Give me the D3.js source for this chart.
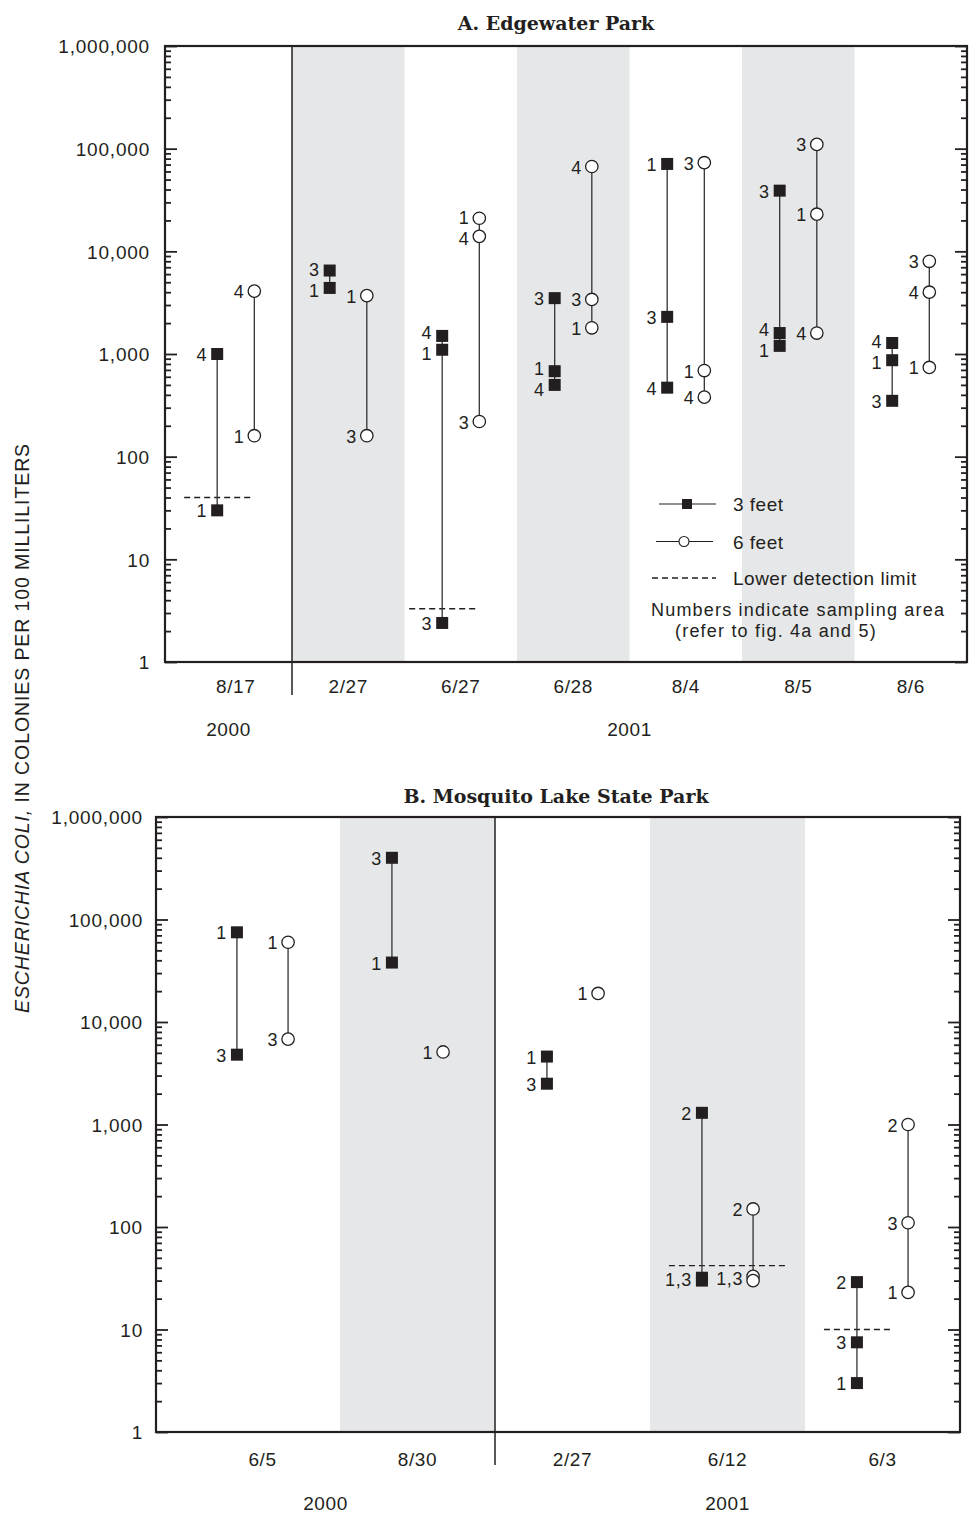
<!DOCTYPE html>
<html>
<head>
<meta charset="utf-8">
<script src="https://cdn.jsdelivr.net/npm/d3@7"></script>
<style>
  html, body { margin: 0; padding: 0; background: #fff; }
  svg { display: block; }
  text { fill: #231f20; }
</style>
</head>
<body>
<svg id="chart" width="969" height="1513"></svg>
<script>
// ---------------- data ----------------
// Decade ticks of the log axis (labelled)
const yTickValues = [1, 10, 100, 1000, 10000, 100000, 1000000];
const yAxisTitleItalic = "ESCHERICHIA COLI,";
const yAxisTitleRest = " IN COLONIES PER 100 MILLILITERS";

// A. Edgewater Park — each record: [date, sampling area, colonies per 100 mL]
const edgewaterTitle = "A. Edgewater Park";
const edgewaterDates = ["8/17", "2/27", "6/27", "6/28", "8/4", "8/5", "8/6"];
const edgewaterDateYears = ["2000", "2001", "2001", "2001", "2001", "2001", "2001"];
const edgewaterThreeFeet = [
  ["8/17", "4", 1000], ["8/17", "1", 30],
  ["2/27", "3", 6500], ["2/27", "1", 4400],
  ["6/27", "4", 1500], ["6/27", "1", 1100], ["6/27", "3", 2.4],
  ["6/28", "3", 3500], ["6/28", "1", 680], ["6/28", "4", 500],
  ["8/4", "1", 71000], ["8/4", "3", 2300], ["8/4", "4", 470],
  ["8/5", "3", 39000], ["8/5", "4", 1600], ["8/5", "1", 1200],
  ["8/6", "4", 1280], ["8/6", "1", 870], ["8/6", "3", 350]
];
const edgewaterSixFeet = [
  ["8/17", "4", 4100], ["8/17", "1", 160],
  ["2/27", "1", 3700], ["2/27", "3", 160],
  ["6/27", "1", 21000], ["6/27", "4", 14000], ["6/27", "3", 220],
  ["6/28", "4", 67000], ["6/28", "3", 3400], ["6/28", "1", 1800],
  ["8/4", "3", 73000], ["8/4", "1", 690], ["8/4", "4", 380],
  ["8/5", "3", 110000], ["8/5", "1", 23000], ["8/5", "4", 1600],
  ["8/6", "3", 8000], ["8/6", "4", 4000], ["8/6", "1", 740]
];
// Lower detection limits: [date, depths covered, value]
const edgewaterLimits = [["8/17", "3", 40], ["6/27", "3", 3.3]];

// B. Mosquito Lake State Park
const mosquitoTitle = "B. Mosquito Lake State Park";
const mosquitoDates = ["6/5", "8/30", "2/27", "6/12", "6/3"];
const mosquitoDateYears = ["2000", "2000", "2001", "2001", "2001"];
const mosquitoThreeFeet = [
  ["6/5", "1", 75000], ["6/5", "3", 4800],
  ["8/30", "3", 400000], ["8/30", "1", 38000],
  ["2/27", "1", 4600], ["2/27", "3", 2500],
  ["6/12", "2", 1300], ["6/12", "1", 32], ["6/12", "3", 30],
  ["6/3", "2", 29], ["6/3", "3", 7.5], ["6/3", "1", 3]
];
const mosquitoSixFeet = [
  ["6/5", "1", 60000], ["6/5", "3", 6800],
  ["8/30", "1", 5100],
  ["2/27", "1", 19000],
  ["6/12", "2", 150], ["6/12", "1", 33], ["6/12", "3", 30],
  ["6/3", "2", 1000], ["6/3", "3", 110], ["6/3", "1", 23]
];
const mosquitoLimits = [["6/12", "3,6", 42], ["6/3", "3", 10]];

const legendLabels = ["3 feet", "6 feet", "Lower detection limit"];
const legendNote = ["Numbers indicate sampling area", "(refer to fig. 4a and 5)"];

// ---------------- drawing ----------------
const INK = "#231f20";
const SHADE = "#e6e7e8";
const SANS = '"Liberation Sans", Arial, Helvetica, sans-serif';
const SERIF = '"DejaVu Serif", "Liberation Serif", serif';
const svg = d3.select("#chart");

// common text styling
function sans(sel, size, spacing) {
  return sel.style("font-family", SANS).style("font-size", size + "px")
    .style("letter-spacing", spacing + "px").style("fill", INK);
}

function drawPanel(layout, title, dates, dateYears, three, six, limits) {
  const g = svg.append("g");
  const x = d3.scaleBand().domain(dates)
    .range([layout.left + layout.lead, layout.right]).padding(0);
  const y = d3.scaleLog().domain([1, 1e6]).range([layout.bottom, layout.top]);
  const step = x.bandwidth();
  const off = step * 0.165;
  const cx = (date, depth) => x(date) + step / 2 + (depth === "3" ? -off : off);

  // alternating shaded date bands
  g.append("g").selectAll("rect")
    .data(dates.filter((d, i) => i % 2 === 1))
    .join("rect")
    .attr("x", d => x(d)).attr("y", layout.top)
    .attr("width", step).attr("height", layout.bottom - layout.top)
    .attr("fill", SHADE);

  // year groups
  const years = Array.from(new Set(dateYears));
  const spanOf = yr => {
    const ds = dates.filter((d, i) => dateYears[i] === yr);
    const a = ds[0] === dates[0] ? layout.left : x(ds[0]);
    return [a, x(ds[ds.length - 1]) + step];
  };

  // year divider lines
  g.append("g").selectAll("line")
    .data(years.slice(1))
    .join("line")
    .attr("x1", yr => spanOf(yr)[0]).attr("x2", yr => spanOf(yr)[0])
    .attr("y1", layout.top).attr("y2", layout.dividerBottom)
    .attr("stroke", INK).attr("stroke-width", 1.5);

  // y axes: decades labelled, intermediate minor ticks
  const minorVals = y.ticks().filter(v => !yTickValues.includes(v));
  const leftMajor = g.append("g").attr("transform", `translate(${layout.left},0)`)
    .call(d3.axisLeft(y).tickValues(yTickValues).tickFormat(d3.format(","))
      .tickSize(-12).tickSizeOuter(0).tickPadding(layout.labelPad));
  const leftMinor = g.append("g").attr("transform", `translate(${layout.left},0)`)
    .call(d3.axisLeft(y).tickValues(minorVals).tickFormat("").tickSize(-6).tickSizeOuter(0));
  const rightMajor = g.append("g").attr("transform", `translate(${layout.right},0)`)
    .call(d3.axisRight(y).tickValues(yTickValues).tickFormat("").tickSize(-12).tickSizeOuter(0));
  const rightMinor = g.append("g").attr("transform", `translate(${layout.right},0)`)
    .call(d3.axisRight(y).tickValues(minorVals).tickFormat("").tickSize(-6).tickSizeOuter(0));
  [leftMajor, leftMinor, rightMajor, rightMinor].forEach(a => {
    a.select(".domain").remove();
    a.selectAll(".tick line").attr("stroke", INK).attr("stroke-width", 1.8);
  });
  sans(leftMajor.selectAll(".tick text"), 19, 0.8).attr("dy", "0.36em");

  // frame
  g.append("rect")
    .attr("x", layout.left).attr("y", layout.top)
    .attr("width", layout.right - layout.left).attr("height", layout.bottom - layout.top)
    .attr("fill", "none").attr("stroke", INK).attr("stroke-width", 2.2);

  // date labels
  const xAxis = g.append("g").attr("transform", `translate(0,${layout.bottom})`)
    .call(d3.axisBottom(x).tickSize(0).tickPadding(layout.datePad));
  xAxis.select(".domain").remove();
  sans(xAxis.selectAll(".tick text"), 19, 0.6);

  // year labels
  sans(g.append("g").selectAll("text")
    .data(years)
    .join("text")
    .attr("x", yr => d3.mean(spanOf(yr)))
    .attr("y", layout.yearY)
    .attr("text-anchor", "middle"), 19, 0.6)
    .text(yr => yr);

  // panel title
  g.append("text")
    .attr("x", 556).attr("y", layout.titleY)
    .attr("text-anchor", "middle")
    .style("font-family", SERIF)
    .style("font-weight", "bold").style("font-size", "19px").style("fill", INK)
    .text(title);

  // detection limits (dashed)
  g.append("g").selectAll("line")
    .data(limits)
    .join("line")
    .attr("x1", d => cx(d[0], "3") - 33)
    .attr("x2", d => (d[1].includes("6") ? cx(d[0], "6") : cx(d[0], "3")) + 33)
    .attr("y1", d => y(d[2])).attr("y2", d => y(d[2]))
    .attr("stroke", INK).attr("stroke-width", 1.3).attr("stroke-dasharray", "6,4");

  // each depth series: range lines, markers, area labels
  [["3", three], ["6", six]].forEach(([depth, pts]) => {
    const groups = d3.groups(pts, d => d[0]);
    const sg = g.append("g");

    sg.selectAll("line.range")
      .data(groups.filter(([, p]) => p.length > 1))
      .join("line").attr("class", "range")
      .attr("x1", ([date]) => cx(date, depth)).attr("x2", ([date]) => cx(date, depth))
      .attr("y1", ([, p]) => y(d3.max(p, d => d[2])))
      .attr("y2", ([, p]) => y(d3.min(p, d => d[2])))
      .attr("stroke", "#333").attr("stroke-width", 1.3);

    if (depth === "3") {
      sg.selectAll("rect.mark").data(pts).join("rect").attr("class", "mark")
        .attr("x", d => cx(d[0], depth) - 6).attr("y", d => y(d[2]) - 6)
        .attr("width", 12).attr("height", 12).attr("fill", INK);
    } else {
      sg.selectAll("circle.mark").data(pts).join("circle").attr("class", "mark")
        .attr("cx", d => cx(d[0], depth)).attr("cy", d => y(d[2]))
        .attr("r", 6.2).attr("fill", "#fff").attr("stroke", INK).attr("stroke-width", 1.3);
    }

    // labels: coincident markers share one label such as "1,3";
    // labels that crowd each other are eased apart
    const labels = [];
    groups.forEach(([date, p]) => {
      const sorted = p.map(d => ({ area: d[1], py: y(d[2]) })).sort((a, b) => a.py - b.py);
      const clusters = [];
      sorted.forEach(s => {
        const c = clusters[clusters.length - 1];
        if (c && s.py - c.last < 6) { c.items.push(s); c.last = s.py; }
        else clusters.push({ items: [s], last: s.py });
      });
      const row = clusters.map(c => ({
        date,
        text: c.items.map(i => i.area).sort().join(","),
        ly: d3.mean(c.items, i => i.py)
      }));
      const minGap = 21;
      for (let i = 1; i < row.length; i++) {
        const gap = row[i].ly - row[i - 1].ly;
        if (gap < minGap) {
          const push = (minGap - gap) / 2;
          row[i - 1].ly -= push;
          row[i].ly += push;
        }
      }
      labels.push(...row);
    });
    sans(sg.selectAll("text").data(labels).join("text")
      .attr("x", d => cx(d.date, depth) - 10)
      .attr("y", d => d.ly + 7)
      .attr("text-anchor", "end"), 18, 0.6)
      .text(d => d.text);
  });

  return { x, y };
}

drawPanel(
  { left: 165, right: 967, lead: 14.5, top: 46, bottom: 662, labelPad: 15,
    datePad: 17.5, yearY: 736, dividerBottom: 695, titleY: 30 },
  edgewaterTitle, edgewaterDates, edgewaterDateYears,
  edgewaterThreeFeet, edgewaterSixFeet, edgewaterLimits
);

drawPanel(
  { left: 156, right: 960, lead: 29, top: 817, bottom: 1432, labelPad: 13,
    datePad: 20.5, yearY: 1510, dividerBottom: 1465, titleY: 803 },
  mosquitoTitle, mosquitoDates, mosquitoDateYears,
  mosquitoThreeFeet, mosquitoSixFeet, mosquitoLimits
);

// legend (panel A)
const legend = svg.append("g");
const legendRows = [504, 541.5, 578];
legend.selectAll("line.sample").data(legendLabels).join("line").attr("class", "sample")
  .attr("x1", (d, i) => i === 2 ? 652 : (i === 0 ? 659 : 656))
  .attr("x2", (d, i) => i === 2 ? 716 : (i === 0 ? 716 : 713))
  .attr("y1", (d, i) => legendRows[i]).attr("y2", (d, i) => legendRows[i])
  .attr("stroke", INK).attr("stroke-width", (d, i) => i === 2 ? 1.3 : 1.1)
  .attr("stroke-dasharray", (d, i) => i === 2 ? "6,4" : null);
legend.append("rect").attr("x", 682).attr("y", legendRows[0] - 5)
  .attr("width", 10).attr("height", 10).attr("fill", INK);
legend.append("circle").attr("cx", 684).attr("cy", legendRows[1]).attr("r", 5)
  .attr("fill", "#fff").attr("stroke", INK).attr("stroke-width", 1.1);
sans(legend.selectAll("text.item").data(legendLabels).join("text").attr("class", "item")
  .attr("x", 733).attr("y", (d, i) => legendRows[i] + 7), 19, 0.5)
  .text(d => d);
sans(legend.selectAll("text.note").data(legendNote).join("text").attr("class", "note")
  .attr("x", (d, i) => i === 0 ? 651 : 675).attr("y", (d, i) => i === 0 ? 616 : 637), 18, 1.2)
  .text(d => d);

// shared y-axis title
const yTitle = sans(svg.append("text")
  .attr("transform", "translate(29,728) rotate(-90)")
  .attr("text-anchor", "middle"), 19.5, 0.9);
yTitle.append("tspan").style("font-style", "italic").text(yAxisTitleItalic);
yTitle.append("tspan").text(yAxisTitleRest);
</script>
</body>
</html>
